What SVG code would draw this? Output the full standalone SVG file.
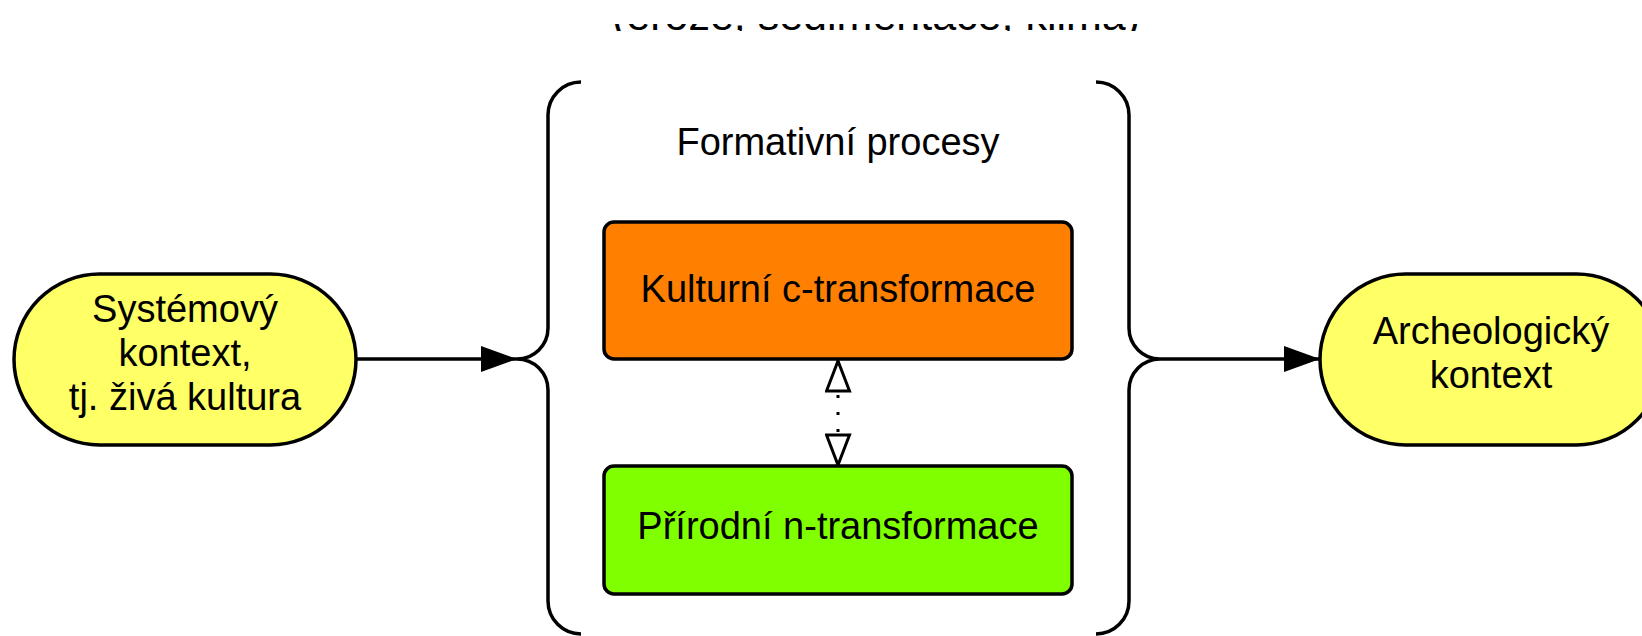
<svg xmlns="http://www.w3.org/2000/svg" width="1642" height="636" viewBox="0 0 1642 636">
<style>
  text { font-family: "Liberation Sans", Arial, sans-serif; font-size: 38px; fill: #000; text-anchor: middle; }
  .node { stroke: #000; stroke-width: 3.5; }
  .brace { fill: none; stroke: #000; stroke-width: 3.5; }
  .conn { fill: none; stroke: #000; stroke-width: 3.5; }
  .dot { fill: none; stroke: #000; stroke-width: 3; stroke-dasharray: 3 14; }
</style>
<defs>
  <marker id="arr" viewBox="0 0 36 26" refX="36" refY="13" markerWidth="36" markerHeight="26" markerUnits="userSpaceOnUse" orient="auto">
    <path d="M0,0 L36,13 L0,26 Z" fill="#000"/>
  </marker>
  <marker id="open" viewBox="-2 -2 34 27" refX="30" refY="11.5" markerWidth="34" markerHeight="27" markerUnits="userSpaceOnUse" orient="auto-start-reverse">
    <path d="M0,0 L30,11.5 L0,23 Z" fill="#fff" stroke="#000" stroke-width="3"/>
  </marker>
  <clipPath id="topclip"><rect x="0" y="24" width="1642" height="7"/></clipPath>
</defs>
<g id="top-label" clip-path="url(#topclip)">
  <text x="876" y="30" style="font-size:43px">(eroze, sedimentace, klima)</text>
</g>
<g id="formativni-procesy">
  <path class="brace" d="M581,82 A33,33 0 0 0 548,115 L548,328 A31,31 0 0 1 517,359 A31,31 0 0 1 548,390 L548,601 A33,33 0 0 0 581,634"/>
  <path class="brace" d="M1096,82 A33,33 0 0 1 1129,115 L1129,328 A31,31 0 0 0 1160,359 A31,31 0 0 0 1129,390 L1129,601 A33,33 0 0 1 1096,634"/>
  <text x="838" y="155">Formativní procesy</text>
</g>
<g id="systemovy-kontext">
  <rect class="node" x="14" y="274" width="342" height="171" rx="85.5" ry="85.5" fill="#FFFF66"/>
  <text x="185" y="322">Systémový</text>
  <text x="185" y="366">kontext,</text>
  <text x="185" y="410">tj. živá kultura</text>
</g>
<g id="kulturni-transformace">
  <rect class="node" x="604" y="222" width="468" height="137" rx="10" ry="10" fill="#FF8000"/>
  <text x="838" y="302">Kulturní c-transformace</text>
</g>
<g id="prirodni-transformace">
  <rect class="node" x="604" y="466" width="468" height="128" rx="10" ry="10" fill="#80FF00"/>
  <text x="838" y="539">Přírodní n-transformace</text>
</g>
<g id="archeologicky-kontext">
  <rect class="node" x="1320" y="274" width="342" height="171" rx="85.5" ry="85.5" fill="#FFFF66"/>
  <text x="1491" y="344">Archeologický</text>
  <text x="1491" y="388">kontext</text>
</g>
<g id="connectors">
  <path class="conn" d="M356,359 L517,359" marker-end="url(#arr)"/>
  <path class="conn" d="M1160,359 L1320,359" marker-end="url(#arr)"/>
  <path class="dot" d="M838,361 L838,465" marker-start="url(#open)" marker-end="url(#open)"/>
</g>
</svg>
